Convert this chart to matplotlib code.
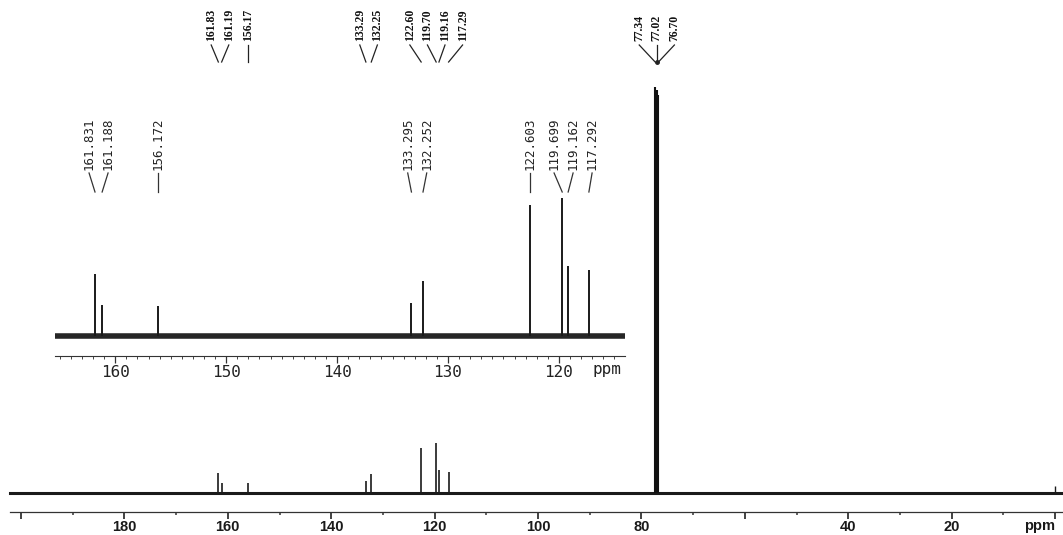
import numpy as np
import matplotlib
matplotlib.use("Agg")
import matplotlib.pyplot as plt
from matplotlib.ticker import FixedLocator, FuncFormatter

# peaks of the full 13C spectrum (ppm, relative intensity)
main_ppm = [161.83, 161.19, 156.17, 133.29, 132.25, 122.60, 119.70, 119.16, 117.29]
main_int = [20, 10, 10, 12, 19, 45, 50, 23, 21]
main_lab = ["161.83", "161.19", "156.17", "133.29", "132.25",
            "122.60", "119.70", "119.16", "117.29"]

# CDCl3 triplet and TMS
solv_ppm = [77.34, 77.02, 76.70]
solv_int = [406, 403, 398]
solv_lab = ["77.34", "77.02", "76.70"]
tms_ppm = [0.0]
tms_int = [7]

# expanded aromatic region (inset)
ins_ppm = [161.831, 161.188, 156.172, 133.295, 132.252, 122.603, 119.699, 119.162, 117.292]
ins_int = [62, 31, 30, 33, 55, 131, 138, 70, 66]
ins_lab = ["161.831", "161.188", "156.172", "133.295", "132.252",
           "122.603", "119.699", "119.162", "117.292"]

main_ticks = [200, 180, 160, 140, 120, 100, 80, 60, 40, 20, 0]
main_shown = [180, 160, 140, 120, 100, 80, 40, 20]
ins_ticks = [160, 150, 140, 130, 120]

W, H = 1063, 535


def spread(vals, gap):
    # push labels apart like the spectrometer plot does
    groups = []
    for v in vals:
        groups.append([v])
        while len(groups) > 1:
            a, b = groups[-2], groups[-1]
            end_a = np.mean(a) + (len(a) - 1) / 2 * gap
            start_b = np.mean(b) - (len(b) - 1) / 2 * gap
            if start_b - end_a < gap:
                groups[-2:] = [a + b]
            else:
                break
    out = []
    for g in groups:
        c, n = np.mean(g), len(g)
        out += [c + (i - (n - 1) / 2) * gap for i in range(n)]
    return out


fig = plt.figure(figsize=(W / 100, H / 100), dpi=100)
fig.patch.set_facecolor("white")

# ---- main spectrum ----
ax = fig.add_axes([0, 1 - 512 / H, 1, 512 / H])
ax.set_xlim(1055 / 5.17, (1055 - W) / 5.17)
ax.set_ylim(-19, 493)
ax.patch.set_alpha(0)
for s in ["left", "right", "top"]:
    ax.spines[s].set_visible(False)
ax.spines["bottom"].set_bounds(1045 / 5.17, (1055 - W) / 5.17)
ax.spines["bottom"].set_linewidth(0.9)
ax.spines["bottom"].set_color("#333333")
ax.set_yticks([])

ax.xaxis.set_major_locator(FixedLocator(main_ticks))
ax.xaxis.set_minor_locator(FixedLocator([t + 10 for t in main_ticks[1:]]))
ax.xaxis.set_major_formatter(FuncFormatter(lambda v, p: f"{v:.0f}" if round(v) in main_shown else ""))
ax.tick_params(axis="x", which="major", direction="out", length=5, width=1.3,
               color="#333333", pad=0.5)
ax.tick_params(axis="x", which="minor", direction="out", length=2.5, width=1.2,
               color="#444444")
for t in ax.get_xticklabels():
    t.set_fontfamily("Liberation Sans")
    t.set_fontweight("bold")
    t.set_fontsize(10.5)
    t.set_color("#1a1a1a")
ax.annotate("ppm", xy=(2.9, 0), xycoords=("data", "axes fraction"),
            xytext=(0, -10), textcoords="offset points", ha="center", va="center",
            fontfamily="Liberation Sans", fontweight="bold", fontsize=10.5, color="#1a1a1a")

ax.axhline(0, xmin=10 / W, xmax=1, color="#1a1a1a", lw=2.2)
ax.vlines(main_ppm, 0, main_int, color="#1a1a1a", lw=1.2)
ax.vlines(solv_ppm, 0, solv_int, color="#111111", lw=1.5)
ax.vlines(tms_ppm, 0, tms_int, color="#1a1a1a", lw=1.0)

# labels over the full spectrum
lab_font = dict(fontfamily="Liberation Serif", fontweight="bold", fontsize=8.5,
                rotation=90, ha="center", va="bottom", color="#111111")
all_ppm = main_ppm + solv_ppm
all_lab = main_lab + solv_lab
lab_x = [-v for v in spread([-p for p in all_ppm], 3.4)]
for p, lx, s in zip(all_ppm, lab_x, all_lab):
    ax.text(lx, 493 - 41, s, **lab_font)
    ax.plot([lx, p], [493 - 45, 493 - 62], color="#222222", lw=0.9)
ax.plot([np.mean(solv_ppm)], [493 - 62], "o", ms=2.5, color="#222222")

# ---- inset (expanded aromatic region) ----
k = 11.089
ix0, ix1 = 161.831 + 40 / k, 161.831 - 530 / k
ia = fig.add_axes([55 / W, 1 - 356 / H, 570 / W, (356 - 110) / H])
ia.set_xlim(ix0, ix1)
ia.set_ylim(-20, 226)
ia.patch.set_alpha(0)
for s in ["left", "right", "top"]:
    ia.spines[s].set_visible(False)
ia.spines["bottom"].set_linewidth(0.8)
ia.spines["bottom"].set_color("#333333")
ia.set_yticks([])
ia.xaxis.set_major_locator(FixedLocator(ins_ticks))
ia.xaxis.set_minor_locator(FixedLocator(list(range(115, 166))))
ia.tick_params(axis="x", which="major", direction="out", length=5, width=0.9,
               color="#333333", pad=1.5)
ia.tick_params(axis="x", which="minor", direction="out", length=2.5, width=0.7,
               color="#444444")
for t in ia.get_xticklabels():
    t.set_fontfamily("DejaVu Sans Mono")
    t.set_fontsize(11.5)
    t.set_color("#222222")
ia.annotate("ppm", xy=(115.66, 0), xycoords=("data", "axes fraction"),
            xytext=(0, -9.5), textcoords="offset points", ha="center", va="center",
            fontfamily="DejaVu Sans Mono", fontsize=11.5, color="#222222")

ia.axhline(0, color="#262626", lw=4)
ia.vlines(ins_ppm, 0, ins_int, color="#1a1a1a", lw=1.4)

ins_font = dict(fontfamily="DejaVu Sans Mono", fontsize=9, rotation=90,
                ha="center", va="bottom", color="#222222")
ilab_x = [-v for v in spread([-p for p in ins_ppm], 19 / k)]
for p, lx, s in zip(ins_ppm, ilab_x, ins_lab):
    ia.text(lx, 336 - 170, s, **ins_font)
    ia.plot([lx, p], [336 - 173, 336 - 192], color="#333333", lw=0.9)

fig.savefig("out.png", dpi=100, facecolor="white")
